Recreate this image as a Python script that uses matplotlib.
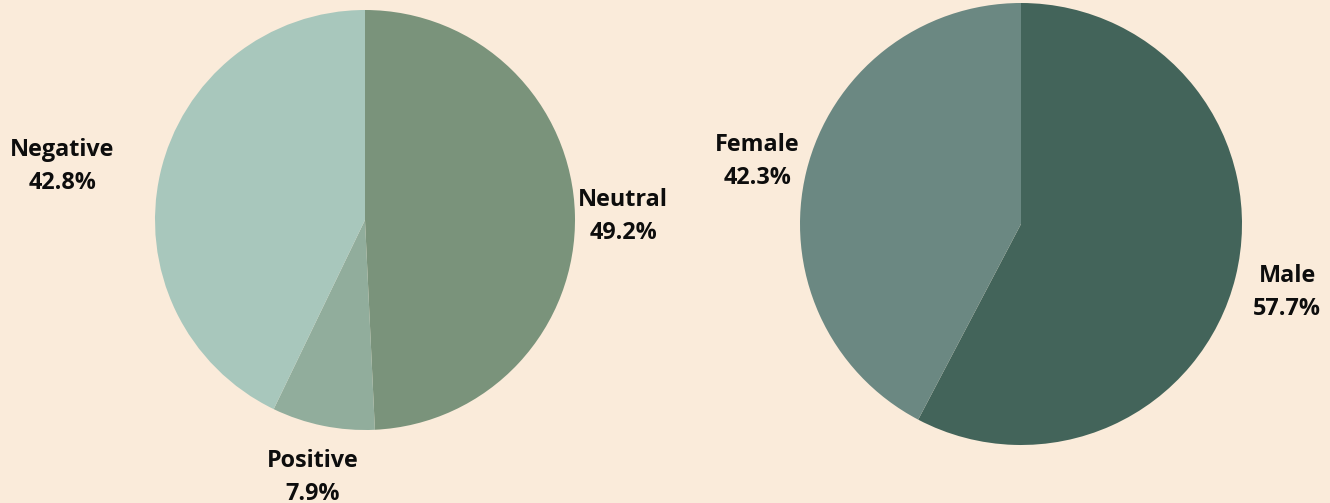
import matplotlib
matplotlib.use("Agg")
import matplotlib.pyplot as plt
import numpy as np

# Data
sent_labels = ["Neutral", "Positive", "Negative"]
sent_values = [49.2, 7.9, 42.8]
gender_labels = ["Male", "Female"]
gender_values = [57.7, 42.3]

sent_colors = ["#7a937b", "#91ad9c", "#a8c7bc"]
gender_colors = ["#43645a", "#6b8882"]
bg = "#faebda"
txt = "#0d0d0d"

W, H = 1330, 503
fig = plt.figure(figsize=(W / 100, H / 100), dpi=100, facecolor=bg)

def make_ax(cx, cy, r):
    ax = fig.add_axes([(cx - r) / W, (H - cy - r) / H, 2 * r / W, 2 * r / H])
    return ax

def draw(ax, labels, values, colors, dists, offsets):
    wedges, _ = ax.pie(values, colors=colors, startangle=90, counterclock=False,
                       radius=1, wedgeprops=dict(linewidth=0))
    ax.set_xlim(-1, 1)
    ax.set_ylim(-1, 1)
    ax.set_aspect("equal")
    ax.axis("off")
    total = sum(values)
    for w, lab, v, d, off in zip(wedges, labels, values, dists, offsets):
        ang = np.deg2rad((w.theta1 + w.theta2) / 2)
        ax.annotate(f"{lab}\n{v / total * 100:.1f}%",
                    xy=(d * np.cos(ang), d * np.sin(ang)),
                    xytext=off, textcoords="offset pixels",
                    ha="center", va="center", fontsize=16.8, fontweight="bold",
                    family=["Open Sans", "DejaVu Sans"], color=txt,
                    linespacing=1.5, annotation_clip=False)

ax1 = make_ax(365, 220, 210)
draw(ax1, sent_labels, sent_values, sent_colors, [1.23, 1.24, 1.47],
     [(0, -3), (0, -2), (-2, -15)])

ax2 = make_ax(1021, 224, 221)
draw(ax2, gender_labels, gender_values, gender_colors, [1.24, 1.23],
     [(0, -3), (0, -3)])

fig.savefig("out.png", dpi=100, facecolor=bg)
